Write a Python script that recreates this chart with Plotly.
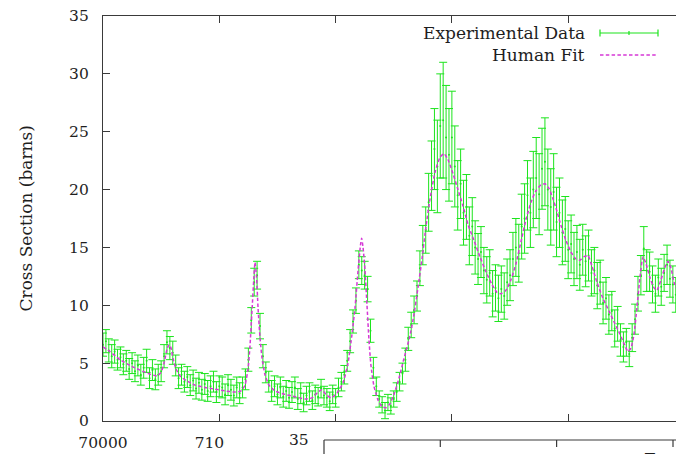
import plotly.graph_objects as go

# ---------------- data ----------------
energy = [
    70000, 70025, 70050, 70075, 70100, 70125, 70150, 70175, 70200, 70225,
    70250, 70275, 70300, 70325, 70350, 70375, 70400, 70425, 70450, 70475,
    70500, 70525, 70550, 70575, 70600, 70625, 70650, 70675, 70700, 70725,
    70750, 70775, 70800, 70825, 70850, 70875, 70900, 70925, 70950, 70975,
    71000, 71025, 71050, 71075, 71100, 71125, 71150, 71175, 71200, 71225,
    71250, 71275, 71300, 71325, 71350, 71375, 71400, 71425, 71450, 71475,
    71500, 71525, 71550, 71575, 71600, 71625, 71650, 71675, 71700, 71725,
    71750, 71775, 71800, 71825, 71850, 71875, 71900, 71925, 71950, 71975,
    72000, 72025, 72050, 72075, 72100, 72125, 72150, 72175, 72200, 72225,
    72250, 72275, 72300, 72325, 72350, 72375, 72400, 72425, 72450, 72475,
    72500, 72525, 72550, 72575, 72600, 72625, 72650, 72675, 72700, 72725,
    72750, 72775, 72800, 72825, 72850, 72875, 72900, 72925, 72950, 72975,
    73000, 73025, 73050, 73075, 73100, 73125, 73150, 73175, 73200, 73225,
    73250, 73275, 73300, 73325, 73350, 73375, 73400, 73425, 73450, 73475,
    73500, 73525, 73550, 73575, 73600, 73625, 73650, 73675, 73700, 73725,
    73750, 73775, 73800, 73825, 73850, 73875, 73900, 73925, 73950, 73975,
    74000, 74025, 74050, 74075, 74100, 74125, 74150, 74175, 74200, 74225,
    74250, 74275, 74300, 74325, 74350, 74375, 74400, 74425, 74450, 74475,
    74500, 74525, 74550, 74575, 74600, 74625, 74650, 74675, 74700, 74725,
    74750, 74775, 74800, 74825, 74850, 74875, 74900, 74925,
]

cross_section = [
    6.6, 6.9, 6.1, 5.6, 6.0, 5.3, 5.5, 4.9, 5.2, 4.5,
    5.0, 4.3, 4.8, 4.0, 4.6, 5.2, 3.7, 4.4, 3.6, 4.0,
    4.3, 5.6, 6.8, 6.3, 5.9, 4.8, 3.7, 4.0, 3.4, 3.8,
    3.1, 3.5, 2.8, 3.3, 2.7, 3.2, 2.6, 3.0, 3.4, 2.5,
    3.0, 2.9, 2.3, 3.1, 2.7, 2.2, 2.9, 2.4, 2.9, 3.6,
    5.3, 8.7, 12.0, 12.6, 8.2, 5.6, 4.2, 3.4, 2.6, 3.0,
    2.3, 2.9, 2.1, 2.6, 2.0, 2.5, 2.9, 1.9, 2.4, 1.6,
    2.2, 2.5, 1.8, 2.3, 2.1, 2.8, 2.2, 2.0, 1.7, 2.3,
    2.0, 2.9, 3.4, 4.0, 5.2, 6.9, 8.6, 10.4, 13.5, 13.0,
    12.6, 11.4, 7.8, 4.6, 3.0, 1.9, 1.4, 0.9, 1.6, 1.3,
    1.9, 2.5, 3.4, 4.1, 5.3, 7.1, 8.3, 9.6, 10.8, 13.2,
    15.2, 16.5, 18.9, 21.2, 23.5, 22.0, 25.5, 26.0, 24.5, 23.0,
    24.5, 22.0, 19.5, 20.5, 18.0, 18.5, 16.0, 16.8, 15.0, 14.0,
    14.6, 13.0, 12.2, 12.8, 11.0, 11.5, 10.6, 11.4, 10.8, 12.0,
    12.6, 14.0, 15.0, 14.5, 16.8, 17.5, 19.5, 18.0, 20.0, 21.0,
    19.6, 21.8, 22.4, 20.0, 18.5, 19.8, 17.2, 18.0, 16.3, 16.6,
    14.8, 15.3, 14.0, 14.6, 13.5, 14.8, 13.8, 14.3, 12.8, 13.0,
    11.7, 12.0, 10.2, 10.6, 9.2, 9.5, 8.0, 8.4, 7.0, 6.4,
    6.8, 5.8, 7.2, 8.8, 11.0, 12.6, 14.9, 13.0, 12.9, 11.8,
    11.0, 12.4, 11.6, 12.8, 13.5, 12.3, 11.8, 10.9,
]

error = [
    1.0, 1.0, 1.0, 1.0, 1.0, 0.9, 0.9, 0.9, 0.9, 0.9,
    0.9, 0.9, 0.9, 0.9, 0.9, 1.0, 0.9, 0.9, 0.9, 0.9,
    0.9, 1.0, 1.0, 1.0, 1.0, 0.9, 0.9, 0.9, 0.9, 0.9,
    0.9, 0.9, 0.9, 0.9, 0.9, 0.9, 0.9, 0.9, 0.9, 0.9,
    0.9, 0.9, 0.9, 0.9, 0.9, 0.9, 0.9, 0.9, 0.9, 0.9,
    1.0, 1.1, 1.2, 1.2, 1.1, 1.0, 0.9, 0.9, 0.9, 0.9,
    0.9, 0.9, 0.9, 0.9, 0.9, 0.9, 0.9, 0.9, 0.9, 0.8,
    0.8, 0.8, 0.8, 0.8, 0.8, 0.8, 0.8, 0.8, 0.8, 0.8,
    0.8, 0.8, 0.8, 0.8, 0.9, 1.0, 1.0, 1.1, 1.2, 1.2,
    1.2, 1.1, 1.0, 0.9, 0.8, 0.7, 0.7, 0.7, 0.7, 0.7,
    0.7, 0.8, 0.8, 0.9, 1.0, 1.0, 1.1, 1.2, 1.3, 1.5,
    1.7, 2.0, 2.5, 3.0, 3.5, 4.0, 4.5, 5.0, 4.5, 4.0,
    4.0, 3.5, 3.0, 3.0, 2.8, 2.8, 2.5, 2.5, 2.3, 2.2,
    2.2, 2.0, 2.0, 2.0, 2.0, 2.0, 2.0, 2.0, 2.0, 2.0,
    2.2, 2.3, 2.5, 2.5, 2.8, 3.0, 3.0, 3.0, 3.3, 3.5,
    3.5, 3.5, 3.8, 3.5, 3.3, 3.3, 3.0, 3.0, 2.8, 2.8,
    2.5, 2.5, 2.3, 2.3, 2.2, 2.2, 2.2, 2.2, 2.0, 2.0,
    2.0, 1.9, 1.8, 1.8, 1.7, 1.7, 1.6, 1.5, 1.4, 1.3,
    1.2, 1.1, 1.2, 1.3, 1.5, 1.7, 1.9, 1.8, 1.7, 1.6,
    1.6, 1.6, 1.6, 1.6, 1.7, 1.6, 1.6, 1.5,
]

fit_energy = [
    70000, 70060, 70146, 70232, 70318, 70404, 70464, 70499, 70525, 70550,
    70568, 70585, 70602, 70628, 70662, 70714, 70791, 70877, 70963, 71049,
    71135, 71187, 71221, 71247, 71264, 71281, 71298, 71307, 71320, 71333,
    71350, 71367, 71393, 71427, 71479, 71565, 71651, 71737, 71797, 71849,
    71883, 71917, 71960, 72012, 72064, 72107, 72141, 72167, 72193, 72214,
    72224, 72236, 72253, 72270, 72287, 72304, 72330, 72365, 72399, 72433,
    72468, 72502, 72545, 72588, 72640, 72674, 72708, 72743, 72777, 72812,
    72855, 72898, 72932, 72966, 73009, 73052, 73095, 73138, 73190, 73241,
    73293, 73345, 73388, 73422, 73465, 73508, 73551, 73594, 73637, 73680,
    73723, 73766, 73800, 73835, 73869, 73904, 73938, 73981, 74024, 74067,
    74101, 74136, 74170, 74204, 74247, 74299, 74351, 74402, 74445, 74480,
    74514, 74540, 74566, 74591, 74617, 74643, 74669, 74703, 74738, 74763,
    74798, 74832, 74858, 74884, 74910, 74927,
]

fit_value = [
    6.4, 6.0, 5.3, 4.8, 4.4, 4.05, 3.9, 4.2, 5.0, 6.2,
    6.6, 6.3, 5.4, 4.5, 3.9, 3.5, 3.1, 2.9, 2.75, 2.6,
    2.5, 2.6, 3.1, 4.5, 6.5, 9.5, 12.5, 13.7, 12.5, 9.8,
    7.2, 5.5, 4.0, 3.1, 2.6, 2.3, 2.1, 1.9, 2.0, 2.5,
    2.7, 2.3, 2.0, 2.4, 3.3, 5.0, 7.5, 9.8, 13.0, 15.2,
    15.8, 15.0, 13.0, 10.0, 7.0, 4.8, 3.0, 1.8, 1.25, 1.15,
    1.5, 2.3, 3.7, 5.4, 7.4, 9.2, 11.5, 14.0, 16.8, 19.2,
    21.5, 22.8, 23.1, 22.6, 21.4, 20.0, 18.6, 17.0, 15.6, 14.2,
    12.9, 11.8, 11.1, 11.0, 11.3, 12.2, 13.6, 15.5, 17.4, 18.9,
    19.9, 20.4, 20.5, 20.1, 19.2, 18.1, 16.9, 15.6, 14.6, 14.0,
    13.9, 14.2, 14.3, 13.4, 12.0, 10.6, 9.5, 8.4, 7.5, 6.7,
    6.0, 6.3, 7.5, 9.8, 12.4, 14.2, 13.6, 12.4, 11.5, 11.3,
    12.2, 13.3, 13.8, 13.2, 12.0, 11.5,
]

x_tickvals = [70000, 71000, 72000, 73000, 74000]
x_ticktext = ["70000", "71000", "72000", "73000", "74000"]
y_tickvals = [0, 5, 10, 15, 20, 25, 30, 35]
x_range = [70000, 74927]
y_range = [0, 35]

series_names = ["Experimental Data", "Human Fit"]
y_title = "Cross Section (barns)"

# ---------------- style ----------------
W, H = 676, 454
ML, MR, MT, MB = 103, 0, 16, 33
PW, PH = W - ML - MR, H - MT - MB
GREEN = "rgb(28,228,28)"
MAGENTA = "rgb(214,56,214)"
AXIS = "#3a3a3a"
TEXT = "#1e1e1e"
FONT = "DejaVu Serif"
FS_TICK = 15.5
FS_TEXT = 17


def px(xp):
    return (xp - ML) / PW


def py(yp):
    return (H - MB - yp) / PH


fig = go.Figure()
fig.add_trace(go.Scatter(
    x=energy, y=cross_section, mode="markers", name=series_names[0],
    marker=dict(color=GREEN, size=2),
    error_y=dict(type="data", array=error, visible=True,
                 color=GREEN, thickness=1, width=4),
    showlegend=False,
))
fig.add_trace(go.Scatter(
    x=fit_energy, y=fit_value, mode="lines", name=series_names[1],
    line=dict(color=MAGENTA, width=1.5, dash="3.5px,2.3px",
              shape="spline", smoothing=0.5),
    showlegend=False,
))

shapes = []
annotations = []

# manual gnuplot-style key (text right-aligned, sample on the right)
ky1, ky2 = 33, 55
shapes += [
    dict(type="line", xref="paper", yref="paper", x0=px(600), x1=px(658),
         y0=py(ky1), y1=py(ky1), line=dict(color=GREEN, width=1.2)),
    dict(type="line", xref="paper", yref="paper", x0=px(600), x1=px(600),
         y0=py(ky1 - 3.5), y1=py(ky1 + 3.5), line=dict(color=GREEN, width=1.2)),
    dict(type="line", xref="paper", yref="paper", x0=px(658), x1=px(658),
         y0=py(ky1 - 3.5), y1=py(ky1 + 3.5), line=dict(color=GREEN, width=1.2)),
    dict(type="line", xref="paper", yref="paper", x0=px(629), x1=px(629),
         y0=py(ky1 - 2), y1=py(ky1 + 2), line=dict(color=GREEN, width=1.2)),
    dict(type="line", xref="paper", yref="paper", x0=px(600), x1=px(658),
         y0=py(ky2), y1=py(ky2),
         line=dict(color=MAGENTA, width=1.5, dash="3.5px,2.3px")),
]
annotations += [
    dict(text=series_names[0], xref="paper", yref="paper", x=px(587), y=py(ky1),
         xanchor="right", yanchor="middle", showarrow=False,
         font=dict(family=FONT, size=FS_TEXT, color=TEXT)),
    dict(text=series_names[1], xref="paper", yref="paper", x=px(587), y=py(ky2),
         xanchor="right", yanchor="middle", showarrow=False,
         font=dict(family=FONT, size=FS_TEXT, color=TEXT)),
    dict(text=y_title, xref="paper", yref="paper", x=px(25), y=0.5,
         xanchor="center", yanchor="middle", textangle=-90, showarrow=False,
         font=dict(family=FONT, size=FS_TEXT, color=TEXT)),
]

# overlapping second figure fragment at the bottom (its white page and corner)
shapes += [
    dict(type="rect", xref="paper", yref="paper", layer="above",
         x0=px(225), x1=px(690), y0=py(470), y1=py(428),
         fillcolor="white", line=dict(width=0)),
    dict(type="line", xref="paper", yref="paper", layer="above",
         x0=px(324), x1=px(690), y0=py(440), y1=py(440),
         line=dict(color=AXIS, width=1.2)),
    dict(type="line", xref="paper", yref="paper", layer="above",
         x0=px(324), x1=px(324), y0=py(440), y1=py(470),
         line=dict(color=AXIS, width=1.2)),
]
for tx in (440.3, 556.6, 673):
    shapes.append(dict(type="line", xref="paper", yref="paper", layer="above",
                       x0=px(tx), x1=px(tx), y0=py(440), y1=py(447),
                       line=dict(color=AXIS, width=1.2)))
annotations += [
    dict(text="35", xref="paper", yref="paper", x=px(311), y=py(440),
         xanchor="right", yanchor="middle", showarrow=False,
         font=dict(family=FONT, size=FS_TICK, color=TEXT)),
    dict(text=series_names[0], xref="paper", yref="paper", x=px(808), y=py(459),
         xanchor="right", yanchor="middle", showarrow=False,
         font=dict(family=FONT, size=FS_TEXT, color=TEXT)),
]

fig.update_layout(
    width=W, height=H,
    margin=dict(l=ML, r=MR, t=MT, b=MB, pad=0),
    paper_bgcolor="white", plot_bgcolor="white",
    showlegend=False,
    font=dict(family=FONT, size=FS_TICK, color=TEXT),
    shapes=shapes, annotations=annotations,
    xaxis=dict(range=x_range, tickvals=x_tickvals, ticktext=x_ticktext,
               showgrid=False, zeroline=False, showline=True, mirror="ticks",
               linecolor=AXIS, linewidth=1.2, ticks="inside", ticklen=7,
               tickcolor=AXIS, tickwidth=1.2, ticklabelstandoff=7,
               tickfont=dict(family=FONT, size=FS_TICK, color=TEXT)),
    yaxis=dict(range=y_range, tickvals=y_tickvals,
               showgrid=False, zeroline=False, showline=True, mirror=False,
               linecolor=AXIS, linewidth=1.2, ticks="inside", ticklen=7,
               tickcolor=AXIS, tickwidth=1.2, ticklabelstandoff=10,
               tickfont=dict(family=FONT, size=FS_TICK, color=TEXT)),
)

fig.write_html("out.html")
